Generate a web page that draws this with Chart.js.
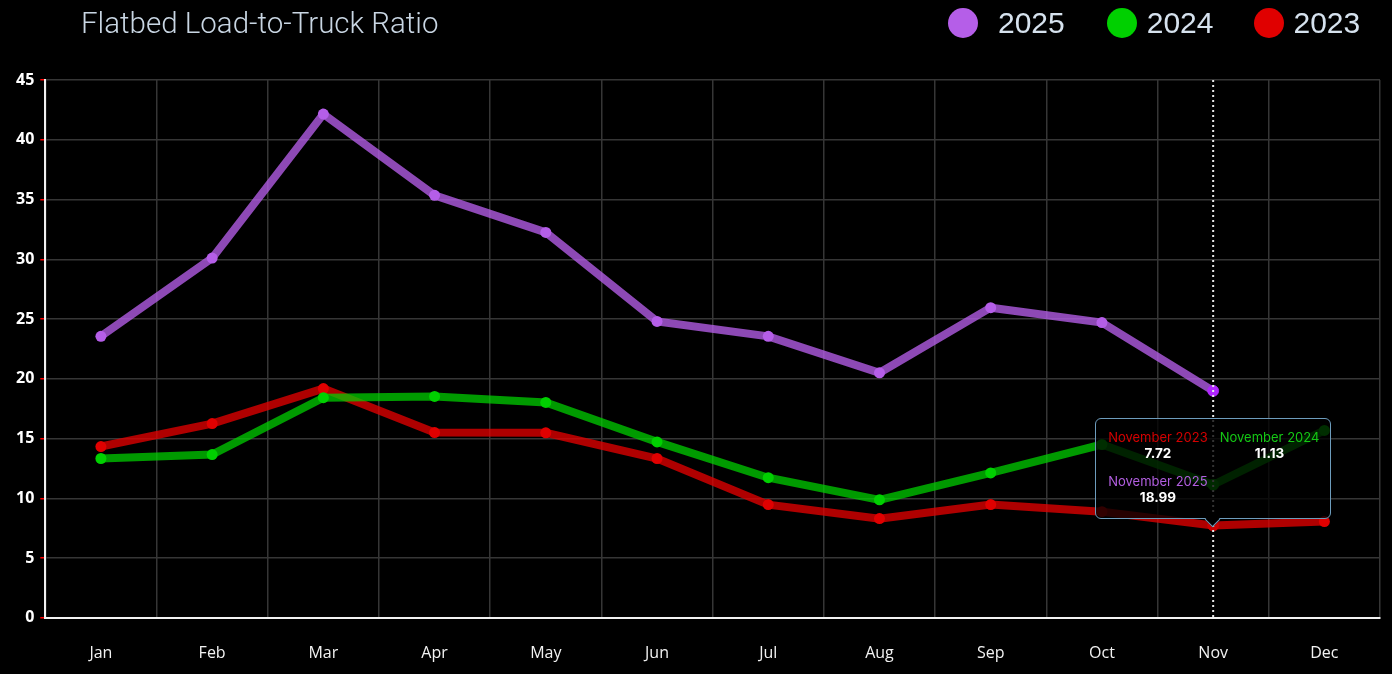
<!DOCTYPE html>
<html>
<head>
<meta charset="utf-8">
<script src="https://cdn.jsdelivr.net/npm/chart.js@4.4.1/dist/chart.umd.min.js"></script>
<style>
  html, body { margin: 0; padding: 0; background: #000; }
  body { width: 1392px; height: 674px; position: relative; overflow: hidden; }
  #header { position: absolute; top: 0; left: 0; width: 1392px; height: 50px; z-index: 2; }
  #title { position: absolute; left: 81px; top: 6px; font-family: Roboto, sans-serif; font-weight: 300;
           font-size: 29.5px; color: #c9d6e3; white-space: nowrap; }
  #legend { position: absolute; left: 948px; top: 6px; display: flex; align-items: center; }
  .leg-item { display: flex; align-items: center; margin-right: 40px; }
  .leg-item:first-child { margin-right: 42px; }
  .leg-dot { width: 30px; height: 30px; border-radius: 50%; margin-right: 10px; }
  .leg-item:first-child .leg-dot { margin-right: 20px; }
  .leg-text { font-family: "Liberation Sans", Arial, sans-serif; font-size: 30px; color: #d6e2ee; }
  #wrap { position: absolute; left: 0; top: 0; width: 1392px; height: 674px; }
  #chart { display: block; }
  #tip { position: absolute; display: none; z-index: 3; pointer-events: none; }
  #tip .box { background: rgba(0,0,0,0.78); border: 1px solid #6d9cbc; border-radius: 6px;
              padding: 11px 11px 13px 12px; display: grid; grid-template-columns: auto auto;
              column-gap: 12px; row-gap: 13px; }
  #tip .cell { text-align: center; font-family: Inter, "Noto Sans", sans-serif; }
  #tip .t { font-size: 13px; line-height: 15px; }
  #tip .v { font-size: 13.5px; font-weight: 700; color: #fff; line-height: 16px; }
  #tip .caret { position: absolute; left: 50%; bottom: -6px; width: 10px; height: 10px; margin-left: -6px;
                background: #000; border-right: 1px solid #6d9cbc; border-bottom: 1px solid #6d9cbc;
                transform: rotate(45deg); }
</style>
</head>
<body>
<div id="header">
  <div id="title">Flatbed Load-to-Truck Ratio</div>
  <div id="legend"></div>
</div>
<div id="wrap"><canvas id="chart" width="1392" height="674"></canvas></div>
<div id="tip"></div>
<script>
// Kategorije i vrijednosti serija
const months = ['Jan', 'Feb', 'Mar', 'Apr', 'May', 'Jun', 'Jul', 'Aug', 'Sep', 'Oct', 'Nov', 'Dec'];
const monthNames = ['January', 'February', 'March', 'April', 'May', 'June', 'July', 'August', 'September', 'October', 'November', 'December'];
const years = ['2025', '2024', '2023'];

const values2025 = [23.55, 30.1, 42.15, 35.35, 32.25, 24.8, 23.55, 20.5, 25.95, 24.7, 18.99, null];
const values2024 = [13.33, 13.66, 18.42, 18.52, 18.02, 14.72, 11.72, 9.87, 12.12, 14.5, 11.13, 15.68];
const values2023 = [14.33, 16.25, 19.18, 15.5, 15.48, 13.33, 9.47, 8.3, 9.47, 8.88, 7.72, 8.05];

const pointColors = ['#b55ee8', '#00d000', '#e00000'];
const lineColors = ['rgba(181,94,232,0.78)', 'rgba(0,208,0,0.74)', 'rgba(224,0,0,0.78)'];
const titleColors = ['#b25ee0', '#14c814', '#d40000'];
const yTicks = [0, 5, 10, 15, 20, 25, 30, 35, 40, 45];
const activeIndex = 10;

// Legenda
const legendEl = document.getElementById('legend');
years.forEach((y, i) => {
    const item = document.createElement('div');
    item.className = 'leg-item';
    item.innerHTML = '<div class="leg-dot" style="background:' + pointColors[i] + '"></div><div class="leg-text">' + y + '</div>';
    legendEl.appendChild(item);
});

// Tooltip ide na najnižu tačku
Chart.Tooltip.positioners.lowest = function (items) {
    if (!items.length) return false;
    let x = items[0].element.x, y = -Infinity;
    items.forEach(it => { if (it.element.y > y) y = it.element.y; });
    return { x: x, y: y };
};

function externalTooltip(context) {
    const tip = document.getElementById('tip');
    const tooltip = context.tooltip;
    if (tooltip.opacity === 0 || !tooltip.dataPoints || !tooltip.dataPoints.length) {
        tip.style.display = 'none';
        return;
    }
    const pts = tooltip.dataPoints.slice().sort((a, b) => a.raw - b.raw);
    let html = '<div class="box">';
    pts.forEach(p => {
        const ds = p.dataset;
        html += '<div class="cell"><div class="t" style="color:' + ds.titleColor + '">' +
            monthNames[p.dataIndex] + ' ' + ds.label + '</div><div class="v">' + p.raw.toFixed(2) + '</div></div>';
    });
    html += '</div><div class="caret"></div>';
    tip.innerHTML = html;
    tip.style.display = 'block';
    const rect = context.chart.canvas.getBoundingClientRect();
    const w = tip.offsetWidth, h = tip.offsetHeight;
    tip.style.left = (rect.left + tooltip.caretX - w / 2) + 'px';
    tip.style.top = (rect.top + tooltip.caretY - h - 7) + 'px';
}

// Vertikalna tačkasta linija
const hoverLine = {
    id: 'hoverLine',
    afterDatasetsDraw(chart) {
        const active = chart.tooltip && chart.tooltip.getActiveElements();
        if (!active || !active.length) return;
        const x = active[0].element.x;
        const ctx = chart.ctx;
        ctx.save();
        ctx.strokeStyle = '#e8e8e8';
        ctx.lineWidth = 2;
        ctx.setLineDash([2, 3]);
        ctx.beginPath();
        ctx.moveTo(x, chart.chartArea.top);
        ctx.lineTo(x, chart.chartArea.bottom);
        ctx.stroke();
        ctx.restore();
    }
};

const seriesValues = [values2025, values2024, values2023];

const chart = new Chart(document.getElementById('chart'), {
    type: 'line',
    data: {
        labels: months,
        datasets: years.map((y, i) => ({
            label: y,
            data: seriesValues[i],
            borderColor: lineColors[i],
            backgroundColor: pointColors[i],
            pointBackgroundColor: pointColors[i],
            pointBorderWidth: 0,
            pointRadius: 5.5,
            pointHoverRadius: 5.5,
            borderWidth: 8,
            tension: 0,
            fill: false,
            titleColor: titleColors[i]
        }))
    },
    options: {
        responsive: false,
        maintainAspectRatio: false,
        animation: false,
        devicePixelRatio: 1,
        layout: { padding: { top: 80, right: 12, bottom: -15, left: 10 } },
        interaction: { mode: 'index', intersect: false },
        plugins: {
            legend: { display: false },
            title: { display: false },
            tooltip: { enabled: false, position: 'lowest', external: externalTooltip }
        },
        scales: {
            x: {
                offset: true,
                grid: { offset: true, color: '#363636', lineWidth: 1.5, drawTicks: false },
                border: { color: '#f2f2f2', width: 2 },
                ticks: { color: '#f2f2f2', padding: 26, font: { family: '"Open Sans", sans-serif', size: 16 } }
            },
            y: {
                min: 0,
                max: 45,
                afterBuildTicks: scale => { scale.ticks = yTicks.map(v => ({ value: v })); },
                grid: { color: '#363636', lineWidth: 1.5, tickColor: '#ff0000', tickLength: 5 },
                border: { color: '#f2f2f2', width: 2 },
                ticks: { color: '#ffffff', padding: 6, font: { family: '"Open Sans", sans-serif', size: 16, weight: 'bold' } }
            }
        }
    },
    plugins: [hoverLine]
});

// Aktiviraj tooltip za novembar
const activeEls = years.map((y, i) => ({ datasetIndex: i, index: activeIndex }));
const meta = chart.getDatasetMeta(0).data[activeIndex];
chart.setActiveElements(activeEls);
chart.tooltip.setActiveElements(activeEls, { x: meta.x, y: meta.y });
chart.update();
</script>
</body>
</html>
